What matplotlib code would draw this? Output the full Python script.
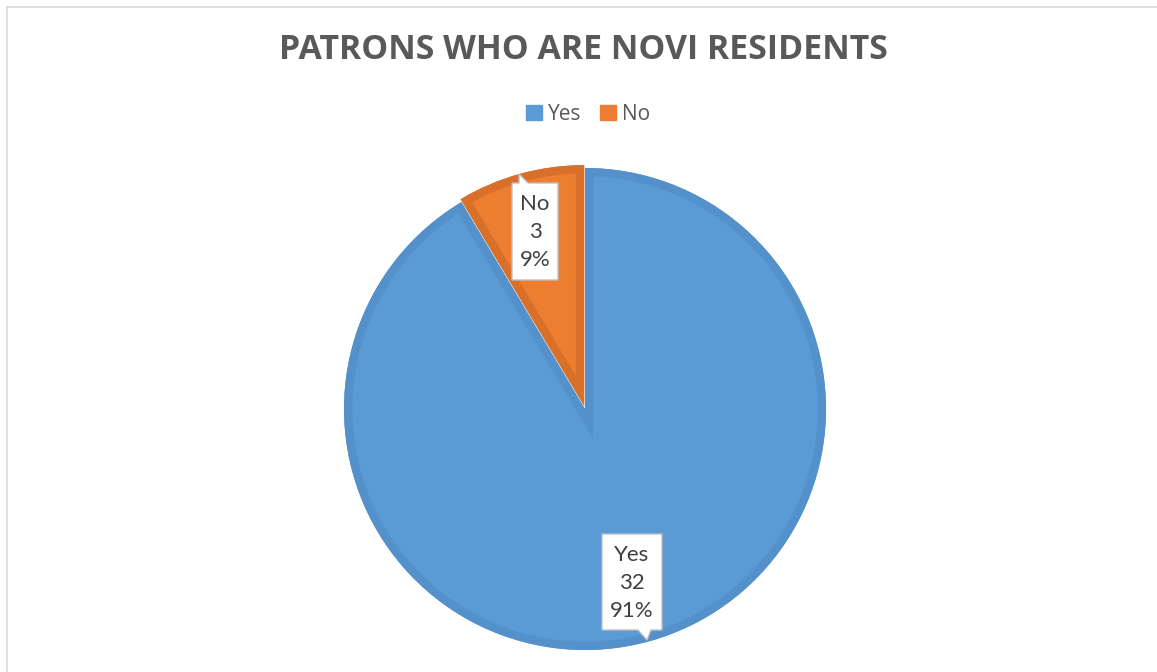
import matplotlib
matplotlib.use("Agg")
import matplotlib.pyplot as plt
from matplotlib.patches import Patch, Polygon, PathPatch

# Survey answers
categories = ["Yes", "No"]
counts = [32, 3]
face_colors = ["#5B9BD5", "#ED7D31"]
rim_colors = ["#5490CA", "#D97029"]

W, H = 1157, 672
fig = plt.figure(figsize=(W / 100, H / 100), dpi=100)
ax = fig.add_axes([0, 0, 1, 1])


def Y(py):
    """Convert a top-down pixel row to the axes' bottom-up coordinate."""
    return H - py


total = sum(counts)
pcts = [round(c / total * 100) for c in counts]

wedges, _ = ax.pie(
    counts,
    colors=face_colors,
    startangle=90,
    counterclock=False,
    center=(585, Y(409)),
    radius=241,
    explode=[0, 3],
    frame=True,
)

# Bevelled rim: a thick outline clipped to the slice leaves only its inner half
for w, rim in zip(wedges, rim_colors):
    w.set_zorder(2)
    outline = PathPatch(w.get_path(), transform=w.get_transform(),
                        facecolor="none", edgecolor=rim, linewidth=12, zorder=3)
    ax.add_patch(outline)
    outline.set_clip_path(w.get_path(), w.get_transform())

ax.set_xlim(0, W)
ax.set_ylim(0, H)
ax.set_aspect("equal")
ax.axis("off")

# Chart-area border
fig.add_artist(plt.Line2D([6.5 / W, 6.5 / W], [0, 1 - 6.5 / H], color="#D9D9D9", lw=1.2,
                          transform=fig.transFigure))
fig.add_artist(plt.Line2D([6.5 / W, 1], [1 - 6.5 / H, 1 - 6.5 / H], color="#D9D9D9", lw=1.2,
                          transform=fig.transFigure))

# Title
ax.text(583, Y(50), "PATRONS WHO ARE NOVI RESIDENTS", ha="center", va="center",
        fontsize=24.4, fontweight="bold", color="#595959", family="Open Sans")

# Legend
handles = [Patch(facecolor=c, edgecolor=c) for c in face_colors]
ax.legend(handles, categories, loc="center", bbox_to_anchor=(588 / W, 1 - 114 / H),
          bbox_transform=fig.transFigure, ncol=2, frameon=False,
          handlelength=0.75, handleheight=0.75, handletextpad=0.3, columnspacing=0.9,
          prop={"family": "Open Sans", "size": 15}, labelcolor="#595959")

text_kw = dict(ha="center", va="center", fontsize=16, color="#404040",
               family="Lato", linespacing=1.52, zorder=6)
box_kw = dict(facecolor="white", edgecolor="#BFBFBF", linewidth=1.0, zorder=5,
              joinstyle="miter")

# Callout for "No": pointer on the top edge
no_box = [(512, 183), (519, 183), (519, 174), (528, 183), (558, 183),
          (558, 280), (512, 280)]
ax.add_patch(Polygon([(x, Y(y)) for x, y in no_box], closed=True, **box_kw))
ax.text(535, Y(232), f"{categories[1]}\n{counts[1]}\n{pcts[1]}%", **text_kw)

# Callout for "Yes": pointer on the bottom edge
yes_box = [(602, 534), (662, 534), (662, 630), (651, 630), (647, 640),
           (638, 630), (602, 630)]
ax.add_patch(Polygon([(x, Y(y)) for x, y in yes_box], closed=True, **box_kw))
ax.text(632, Y(583), f"{categories[0]}\n{counts[0]}\n{pcts[0]}%", **text_kw)

fig.savefig("out.png", dpi=100, facecolor="white")
